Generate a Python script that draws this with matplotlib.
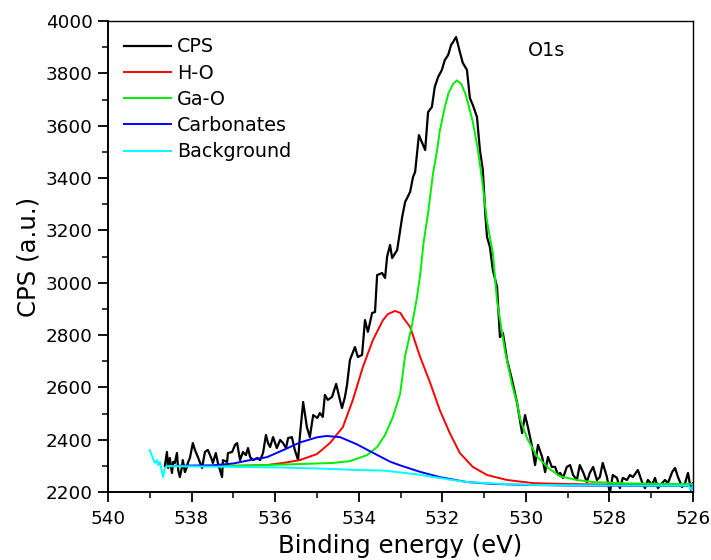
import matplotlib
matplotlib.use("Agg")
import matplotlib.pyplot as plt
from matplotlib.ticker import MultipleLocator

plt.rcParams['font.family'] = ['DejaVu Sans']

# ---- data (binding energy in eV, counts per second) ----
cps_ev = [538.64, 538.59, 538.56, 538.52, 538.47, 538.44, 538.40, 538.35, 538.32, 538.28,
          538.23, 538.21, 538.16, 538.11, 538.09, 538.04, 537.97, 537.92, 537.85, 537.75,
          537.68, 537.61, 537.51, 537.49, 537.42, 537.37, 537.27, 537.25, 537.15, 537.13,
          537.03, 536.96, 536.91, 536.84, 536.77, 536.70, 536.65, 536.60, 536.53, 536.43,
          536.36, 536.29, 536.22, 536.17, 536.12, 536.05, 535.96, 535.88, 535.81, 535.74,
          535.69, 535.60, 535.53, 535.45, 535.41, 535.33, 535.24, 535.17, 535.09, 534.99,
          534.93, 534.86, 534.81, 534.74, 534.64, 534.54, 534.45, 534.40, 534.33, 534.28,
          534.21, 534.09, 534.02, 533.92, 533.85, 533.78, 533.68, 533.61, 533.56, 533.44,
          533.37, 533.32, 533.25, 533.20, 533.08, 532.96, 532.89, 532.77, 532.70, 532.65,
          532.56, 532.41, 532.34, 532.25, 532.18, 532.10, 532.01, 531.94, 531.86, 531.79,
          531.74, 531.67, 531.58, 531.51, 531.41, 531.34, 531.27, 531.17, 531.10, 531.03,
          530.97, 530.93, 530.86, 530.79, 530.69, 530.62, 530.55, 530.45, 530.33, 530.21,
          530.09, 530.02, 529.95, 529.85, 529.78, 529.71, 529.61, 529.54, 529.47, 529.38,
          529.30, 529.23, 529.18, 529.11, 529.02, 528.94, 528.87, 528.78, 528.71, 528.63,
          528.54, 528.47, 528.39, 528.30, 528.23, 528.16, 528.06, 527.99, 527.92, 527.82,
          527.75, 527.68, 527.58, 527.51, 527.44, 527.32, 527.22, 527.15, 527.08, 526.98,
          526.91, 526.84, 526.74, 526.67, 526.60, 526.50, 526.43, 526.36, 526.26, 526.19,
          526.12, 526.05, 526.00]
cps_val = [2299, 2353, 2292, 2330, 2273, 2315, 2311, 2349, 2284, 2257,
           2296, 2322, 2276, 2296, 2311, 2330, 2387, 2361, 2334, 2292,
           2353, 2361, 2322, 2311, 2349, 2311, 2257, 2322, 2315, 2349,
           2353, 2380, 2387, 2322, 2353, 2341, 2368, 2334, 2322, 2330,
           2322, 2349, 2418, 2387, 2372, 2410, 2368, 2399, 2387, 2368,
           2406, 2410, 2361, 2322, 2410, 2544, 2448, 2410, 2494, 2483,
           2502, 2487, 2571, 2552, 2563, 2613, 2552, 2521, 2563, 2609,
           2705, 2754, 2716, 2724, 2857, 2812, 2884, 2888, 3029, 3037,
           3018, 3100, 3144, 3094, 3125, 3251, 3308, 3347, 3404, 3423,
           3564, 3507, 3652, 3671, 3748, 3786, 3813, 3851, 3870, 3908,
           3920, 3939, 3882, 3840, 3813, 3706, 3679, 3633, 3507, 3431,
           3260, 3175, 3136, 3048, 2984, 2792, 2808, 2705, 2628, 2540,
           2425, 2494, 2448, 2372, 2303, 2380, 2334, 2276, 2334, 2296,
           2296, 2265, 2273, 2254, 2296, 2303, 2265, 2246, 2303, 2276,
           2238, 2273, 2296, 2246, 2257, 2311, 2257, 2196, 2265, 2254,
           2215, 2254, 2246, 2265, 2257, 2284, 2238, 2215, 2246, 2227,
           2254, 2215, 2234, 2246, 2234, 2276, 2292, 2257, 2219, 2234,
           2273, 2208, 2234]

ho_ev = [538.60, 537.00, 536.20, 535.81, 535.41, 535.00, 534.69, 534.38, 534.14, 533.90,
         533.66, 533.42, 533.30, 533.13, 533.00, 532.94, 532.77, 532.53, 532.29, 532.06,
         531.82, 531.58, 531.27, 530.93, 530.45, 529.83, 529.18, 528.00, 526.00]
ho_val = [2299, 2300, 2303, 2311, 2322, 2345, 2387, 2448, 2552, 2678,
          2781, 2857, 2880, 2892, 2884, 2867, 2831, 2716, 2617, 2513,
          2425, 2349, 2296, 2265, 2246, 2234, 2231, 2228, 2226]

gao_ev = [538.60, 537.00, 536.20, 535.41, 534.62, 534.21, 533.80, 533.56, 533.37, 533.18,
          533.01, 532.89, 532.73, 532.61, 532.53, 532.45, 532.34, 532.22, 532.13, 532.06,
          531.94, 531.85, 531.74, 531.65, 531.55, 531.46, 531.39, 531.27, 531.15, 531.05,
          530.93, 530.79, 530.69, 530.50, 530.33, 530.21, 530.14, 529.97, 529.73, 529.45,
          529.18, 528.78, 528.39, 527.58, 526.79, 526.00]
gao_val = [2298, 2300, 2303, 2307, 2311, 2318, 2341, 2372, 2418, 2487,
           2575, 2720, 2835, 2940, 3030, 3150, 3266, 3420, 3500, 3580,
           3671, 3725, 3760, 3773, 3760, 3727, 3690, 3615, 3510, 3395,
           3235, 3113, 2930, 2740, 2610, 2540, 2480, 2405, 2335, 2290,
           2260, 2246, 2238, 2233, 2231, 2230]

carb_ev = [538.60, 537.50, 537.00, 536.60, 536.20, 535.81, 535.41, 535.00, 534.78, 534.45,
           534.04, 533.66, 533.25, 533.01, 532.53, 532.06, 531.41, 530.79, 530.00, 529.00,
           528.00, 526.00]
carb_val = [2300, 2302, 2309, 2322, 2333, 2360, 2389, 2409, 2414, 2410,
            2382, 2350, 2316, 2302, 2277, 2257, 2238, 2231, 2227, 2225,
            2224, 2223]

bg_ev = [539.00, 538.88, 538.83, 538.80, 538.76, 538.68, 538.64, 538.59, 538.00, 537.00,
         536.00, 535.00, 534.00, 533.42, 533.00, 532.50, 532.20, 531.80, 531.40, 530.60,
         529.80, 528.00, 526.10, 526.04, 526.00]
bg_val = [2360, 2311, 2322, 2303, 2315, 2257, 2292, 2299, 2298, 2296,
          2294, 2290, 2284, 2282, 2275, 2265, 2257, 2247, 2238, 2231,
          2227, 2225, 2224, 2208, 2228]

x_ticks = [540, 538, 536, 534, 532, 530, 528, 526]
y_ticks = [2200, 2400, 2600, 2800, 3000, 3200, 3400, 3600, 3800, 4000]

# ---- figure ----
fig = plt.figure(figsize=(7.11, 5.60), dpi=100)
ax = fig.add_axes([0.1519, 0.1214, 0.8228, 0.8411])

ax.plot(cps_ev, cps_val, color='black', lw=1.6, label='CPS')
ax.plot(ho_ev, ho_val, color='#ff0000', lw=1.4, label='H-O')
ax.plot(gao_ev, gao_val, color='#00ee00', lw=1.4, label='Ga-O')
ax.plot(carb_ev, carb_val, color='#0000ff', lw=1.4, label='Carbonates')
ax.plot(bg_ev, bg_val, color='#00ffff', lw=1.4, label='Background')

ax.set_xlim(540, 526)
ax.set_ylim(2200, 4000)
ax.set_xticks(x_ticks)
ax.set_yticks(y_ticks)
ax.xaxis.set_minor_locator(MultipleLocator(1))
ax.yaxis.set_minor_locator(MultipleLocator(100))
ax.tick_params(axis='both', which='major', direction='out', length=7, width=1.3,
               labelsize=13.2, pad=4, top=False, right=False)
ax.tick_params(axis='x', which='major', pad=6)
ax.tick_params(axis='both', which='minor', direction='out', length=4, width=1.1,
               top=False, right=False)
for side in ['left', 'bottom']:
    ax.spines[side].set_linewidth(1.4)
for side in ['top', 'right']:
    ax.spines[side].set_linewidth(1.0)

ax.set_xlabel('Binding energy (eV)', fontsize=17.6, labelpad=4)
ax.set_ylabel('CPS (a.u.)', fontsize=17.6, labelpad=4)

ax.text(529.5, 3889, 'O1s', fontsize=13.8, ha='center', va='center')

leg = ax.legend(loc='upper left', frameon=False, fontsize=13.8, handlelength=2.45,
                handletextpad=0.3, labelspacing=0.38, borderaxespad=0.6,
                borderpad=0.25)

fig.savefig('out.png', dpi=100)
